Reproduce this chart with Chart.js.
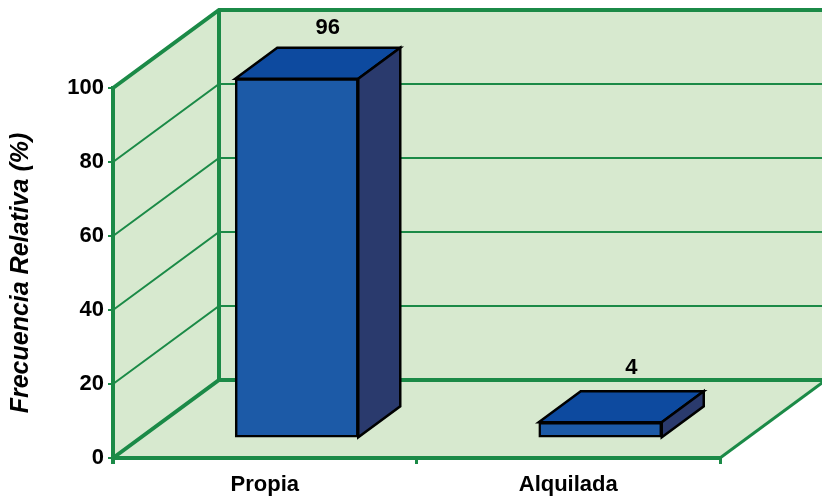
<!DOCTYPE html>
<html>
<head>
    <title>Frecuencia Relativa</title>
    <script src="https://cdnjs.cloudflare.com/ajax/libs/Chart.js/4.4.1/chart.umd.min.js"></script>
    <style>
        html, body { margin: 0; padding: 0; background: #fff; }
        canvas { display: block; }
    </style>
</head>
<body>
    <canvas id="myChart" width="822" height="498"></canvas>
    <script>
        var categories = ['Propia', 'Alquilada'];
        var values = [96, 4];
        var axisTitle = 'Frecuencia Relativa (%)';

        var FONT = '"Liberation Sans", Arial, sans-serif';
        var GREEN = '#1b8a47';
        var WALL = '#d7e9cf';
        // depth of the room and of the bars
        var roomDx = 106, roomDy = -78;
        var barDx = 42, barDy = -31;
        var barShift = 32;

        function line(ctx, pts, width, color) {
            ctx.beginPath();
            ctx.moveTo(pts[0][0], pts[0][1]);
            for (var i = 1; i < pts.length; i++) ctx.lineTo(pts[i][0], pts[i][1]);
            ctx.lineWidth = width;
            ctx.strokeStyle = color;
            ctx.stroke();
        }

        function face(ctx, pts, color) {
            ctx.beginPath();
            ctx.moveTo(pts[0][0], pts[0][1]);
            for (var i = 1; i < pts.length; i++) ctx.lineTo(pts[i][0], pts[i][1]);
            ctx.closePath();
            ctx.fillStyle = color;
            ctx.fill();
            ctx.lineWidth = 2.5;
            ctx.lineJoin = 'miter';
            ctx.strokeStyle = '#000';
            ctx.stroke();
        }

        // walls and floor, gridlines come from the y scale
        var roomPlugin = {
            id: 'room',
            beforeDraw: function (chart) {
                var ctx = chart.ctx, a = chart.chartArea, y = chart.scales.y;
                var l = a.left, r = a.right, t = a.top, b = a.bottom;
                var bl = l + roomDx, br = r + roomDx, bt = t + roomDy, bb = b + roomDy;
                ctx.save();
                ctx.fillStyle = '#fff';
                ctx.fillRect(0, 0, chart.width, chart.height);
                ctx.fillStyle = WALL;
                ctx.beginPath();
                ctx.moveTo(l, t);
                ctx.lineTo(bl, bt);
                ctx.lineTo(br, bt);
                ctx.lineTo(br, bb);
                ctx.lineTo(r, b);
                ctx.lineTo(l, b);
                ctx.closePath();
                ctx.fill();

                y.ticks.forEach(function (tick) {
                    if (tick.value === 0 || tick.value === 100) return;
                    var py = y.getPixelForValue(tick.value);
                    line(ctx, [[l, py], [bl, py + roomDy], [br, py + roomDy]], 2, GREEN);
                });
                line(ctx, [[l, t], [bl, bt], [br, bt]], 4, GREEN);
                line(ctx, [[bl, bt], [bl, bb]], 4, GREEN);
                line(ctx, [[l, b], [bl, bb], [br, bb]], 4, GREEN);
                line(ctx, [[l, t - 2], [l, b + 6]], 4, GREEN);
                line(ctx, [[l - 2, b], [r, b]], 4, GREEN);
                line(ctx, [[r, b], [br, bb]], 3, GREEN);
                ctx.restore();
            },
            beforeDatasetDraw: function (chart) {
                var ctx = chart.ctx;
                ctx.save();
                ctx.translate(barShift, 0);
                chart.getDatasetMeta(0).data.forEach(function (bar) {
                    var l = bar.x - bar.width / 2, r = bar.x + bar.width / 2;
                    var top = bar.y, base = bar.base;
                    face(ctx, [[l, top], [l + barDx, top + barDy], [r + barDx, top + barDy], [r, top]], '#0d4a9f');
                    face(ctx, [[r, top], [r + barDx, top + barDy], [r + barDx, base + barDy], [r, base]], '#2a3a6d');
                });
            },
            afterDatasetDraw: function (chart) {
                chart.ctx.restore();
            },
            afterDatasetsDraw: function (chart) {
                var ctx = chart.ctx, y = chart.scales.y;
                ctx.save();
                ctx.font = 'bold 22px ' + FONT;
                ctx.fillStyle = '#000';
                ctx.textAlign = 'center';
                ctx.textBaseline = 'middle';
                chart.getDatasetMeta(0).data.forEach(function (bar, i) {
                    ctx.fillText(values[i], bar.x + barShift + 31, y.getPixelForValue(values[i]) - 75);
                });
                ctx.restore();
            }
        };

        var myChart = new Chart(document.getElementById('myChart').getContext('2d'), {
            type: 'bar',
            data: {
                labels: categories,
                datasets: [{
                    data: values,
                    yAxisID: 'yBar',
                    backgroundColor: '#1c5aa7',
                    borderColor: '#000',
                    borderWidth: 2.5,
                    borderSkipped: false,
                    barThickness: 123,
                    clip: false
                }]
            },
            plugins: [roomPlugin],
            options: {
                responsive: false,
                animation: false,
                layout: { padding: { top: 88, right: 102, left: 0, bottom: 0 } },
                plugins: { legend: { display: false }, tooltip: { enabled: false } },
                scales: {
                    x: {
                        grid: { drawOnChartArea: false, color: GREEN, lineWidth: 3, tickLength: 6 },
                        border: { display: false },
                        ticks: { color: '#000', font: { family: FONT, size: 22, weight: 'bold' }, padding: 8, maxRotation: 0 },
                        afterFit: function (scale) { scale.height = 40; }
                    },
                    y: {
                        min: 0,
                        max: 100,
                        ticks: { stepSize: 20, color: '#000', font: { family: FONT, size: 22, weight: 'bold' }, padding: 4 },
                        grid: { drawOnChartArea: false, color: GREEN, lineWidth: 2, tickLength: 5 },
                        border: { display: false },
                        title: {
                            display: true,
                            text: axisTitle,
                            color: '#000',
                            font: { family: FONT, size: 25, weight: 'bold', style: 'italic' },
                            padding: { top: 6, bottom: 0 }
                        },
                        afterFit: function (scale) { scale.width = 113; }
                    },
                    // bars stand further back on the floor than the front axis
                    yBar: { display: false, min: -5.55, max: 93.5 }
                }
            }
        });
    </script>
</body>
</html>
